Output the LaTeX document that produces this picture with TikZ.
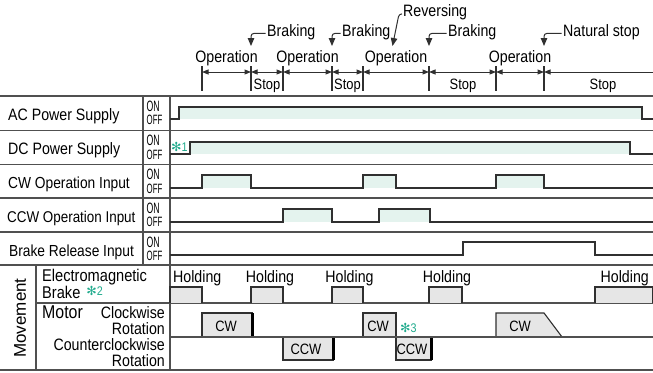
\documentclass[tikz,border=0pt]{standalone}
\usepackage{fontspec}
\setmainfont{Liberation Sans}[FakeStretch=0.86]
\newfontfamily\narrowfont{Liberation Sans}[FakeStretch=0.58]
\newfontfamily\plainfont{Liberation Sans}
\newfontfamily\symfont{DejaVu Sans}
\usetikzlibrary{arrows.meta}

\definecolor{mint}{HTML}{E4F3EE}
\definecolor{notecol}{HTML}{1FAA8C}
\definecolor{boxgray}{HTML}{E6E6E6}
\definecolor{sigcol}{HTML}{303030}
\definecolor{gridcol}{HTML}{505050}

\newcommand{\fs}[1]{\fontsize{#1}{#1}\selectfont}
\newcommand{\note}[1]{{\color{notecol}\fs{12.5}{\symfont ✻}#1}}

\begin{document}
\begin{tikzpicture}[x=1pt, y=-1pt,
  every node/.style={font=\fs{16.5}, inner sep=0pt},
  grid/.style={draw=gridcol, line width=1.3pt},
  sig/.style={draw=sigcol, line width=1.2pt},
  tick/.style={draw=sigcol, line width=1.1pt},
  span/.style={sig, line width=1pt, {Triangle[length=6.5pt,width=5pt]}-{Triangle[length=6.5pt,width=5pt]}},
  callout/.style={sig, line width=1pt, rounded corners=3pt, -{Triangle[length=8pt,width=6.5pt]}},
  hold/.style={draw=sigcol, line width=1.1pt, fill=boxgray},
  stopbar/.style={draw=black, line width=3pt},
  rowlabel/.style={anchor=base west, font=\fs{16}},
  onoff/.style={anchor=base west, font=\narrowfont\fs{#1}}]

  \useasboundingbox (0,0) rectangle (653,372);

  % time marks and spans
  \foreach \t in {202,251,283,332,363,429,496,544}
    \draw[tick] (\t,66) -- (\t,91);
  \draw[span] (202,72) -- (251,72);
  \draw[span] (251,72) -- (283,72);
  \draw[span] (283,72) -- (332,72);
  \draw[span] (332,72) -- (363,72);
  \draw[span] (363,72) -- (429,72);
  \draw[span] (429,72) -- (496,72);
  \draw[span] (496,72) -- (544,72);
  \draw[sig, line width=1pt, {Triangle[length=6.5pt,width=5pt]}-] (544,72) -- (653,72);

  \node[anchor=base] (op1) at (226.5,62.5) {Operation};
  \node[anchor=base] (op2) at (307.5,62.5) {Operation};
  \node[anchor=base] (op3) at (396,62.5) {Operation};
  \node[anchor=base] (op4) at (520,62.5) {Operation};
  \node[anchor=base, font=\fs{15}] (stop1) at (267,89) {Stop};
  \node[anchor=base, font=\fs{15}] (stop2) at (347.5,89) {Stop};
  \node[anchor=base, font=\fs{15}] (stop3) at (463,89) {Stop};
  \node[anchor=base, font=\fs{15}] (stop4) at (603,89) {Stop};

  % events
  \node[anchor=base west] (brk1) at (267,36) {Braking};
  \node[anchor=base west] (brk2) at (342,36) {Braking};
  \node[anchor=base west] (brk3) at (448,36) {Braking};
  \node[anchor=base west] (natstop) at (563,36) {Natural stop};
  \node[anchor=base west] (rev) at (403,16.5) {Reversing};
  \draw[callout] ([xshift=-1.5pt]brk1.mid west) -| (251,46);
  \draw[callout] ([xshift=-1.5pt]brk2.mid west) -| (332,46);
  \draw[callout] ([xshift=-1.5pt]brk3.mid west) -| (429,46);
  \draw[callout] ([xshift=-1.5pt]natstop.mid west) -| (544,46);
  \draw[callout] ([xshift=-1pt]rev.mid west) -- ++(-3,0) -- (392.5,46);

  % table
  \foreach \r in {96,130.5,164.5,198,232,265}
    \draw[grid] (0,\r) -- (653,\r);
  \draw[grid] (36,303) -- (653,303);
  \draw[grid] (170,337) -- (653,337);
  \draw[grid] (0,370) -- (653,370);
  \draw[grid] (143,96) -- (143,265);
  \draw[grid] (170,96) -- (170,370);
  \draw[grid] (36,265) -- (36,370);

  % row labels
  \node[rowlabel, font=\fs{16.5}] (acin) at (8,120.7) {AC Power Supply};
  \node[rowlabel, font=\fs{16.5}] (dcin) at (8,154.7) {DC Power Supply};
  \node[rowlabel] (cwin) at (8,188.5) {CW Operation Input};
  \node[rowlabel, font=\fs{15.6}] (ccwin) at (7,222) {CCW Operation Input};
  \node[rowlabel] (brin) at (9,256) {Brake Release Input};
  \foreach \r [count=\i] in {96,130.5,164.5,198,232} {
    \node[onoff=15] (on\i) at (146.5,\r+15) {ON};
    \node[onoff=13.5] (off\i) at (146.5,\r+28.5) {OFF};
  }

  \node[rotate=90, font=\plainfont\fs{17}] (move) at (20,318) {Movement};
  \node[anchor=base west, font=\fs{17}] (emb) at (42,281) {Electromagnetic};
  \node[anchor=base west, font=\fs{17}] (embb) at (42,298) {Brake\hspace{6pt}\raisebox{3pt}{\note{2}}};
  \node[anchor=base west, font=\fs{18.5}] (motor) at (42,318.7) {Motor};
  \node[anchor=base east] (cwrot) at (165,318.7) {Clockwise};
  \node[anchor=base east] (cwrot2) at (165,334.7) {Rotation};
  \node[anchor=base east] (ccwrot) at (165,350.3) {Counterclockwise};
  \node[anchor=base east] (ccwrot2) at (165,366) {Rotation};

  % AC power supply
  \fill[mint] (179,107) rectangle (642,119);
  \draw[sig] (170,119) -- (179,119) -- (179,107) -- (642,107) -- (642,119) -- (653,119);

  % DC power supply
  \fill[mint] (190,142) rectangle (630,154);
  \draw[sig] (170,154) -- (190,154) -- (190,142) -- (630,142) -- (630,154) -- (653,154);
  \node[anchor=west] (n1) at (171,146.5) {\note{1}};

  % CW operation input
  \foreach \a/\b in {202/251,363/396,496/544}
    \fill[mint] (\a,175) rectangle (\b,188);
  \draw[sig] (170,188) -- (202,188) -- (202,175) -- (251,175) -- (251,188)
    -- (363,188) -- (363,175) -- (396,175) -- (396,188)
    -- (496,188) -- (496,175) -- (544,175) -- (544,188) -- (653,188);

  % CCW operation input
  \foreach \a/\b in {283/332,379/430}
    \fill[mint] (\a,209) rectangle (\b,222);
  \draw[sig] (170,222) -- (283,222) -- (283,209) -- (332,209) -- (332,222)
    -- (379,222) -- (379,209) -- (430,209) -- (430,222) -- (653,222);

  % brake release input
  \draw[sig] (170,255) -- (463,255) -- (463,242) -- (595,242) -- (595,255) -- (653,255);

  % electromagnetic brake
  \foreach \a/\b in {170/202,251/283,332/363,429/462}
    \filldraw[hold] (\a,303) -- (\a,287) -- (\b,287) -- (\b,303);
  \filldraw[hold] (595,303) -- (595,287) -- (653,287) -- (653,303);
  \node[anchor=base west] (hold1) at (173,282.3) {Holding};
  \node[anchor=base] (hold2) at (270,282.3) {Holding};
  \node[anchor=base] (hold3) at (349.5,282.3) {Holding};
  \node[anchor=base] (hold4) at (447,282.3) {Holding};
  \node[anchor=base east] (hold5) at (649,282.3) {Holding};

  % motor
  \filldraw[hold] (202,337) -- (202,313) -- (252,313) -- (252,337);
  \draw[stopbar] (252,313) -- (252,337);
  \filldraw[hold] (363,337) -- (363,313) -- (396,313) -- (396,337);
  \filldraw[hold] (496,337) -- (496,313) -- (544,313) -- (562,337);
  \filldraw[hold] (283,337) -- (283,360) -- (333,360) -- (333,337);
  \draw[stopbar] (333,337) -- (333,360);
  \filldraw[hold] (396,337) -- (396,360) -- (431,360) -- (431,337);
  \draw[stopbar] (431,337) -- (431,360);
  \draw[grid] (170,337) -- (653,337);

  \node[anchor=base, font=\fs{15}] (cw1) at (226,331.7) {CW};
  \node[anchor=base, font=\fs{15}] (cw2) at (378,331.7) {CW};
  \node[anchor=base, font=\fs{15}] (cw3) at (520,331.7) {CW};
  \node[anchor=base, font=\fs{15}] (ccw1) at (306,354) {CCW};
  \node[anchor=base, font=\fs{15}] (ccw2) at (412,354) {CCW};
  \node[anchor=west] (n3) at (400,327.5) {\note{3}};
\end{tikzpicture}
\end{document}
